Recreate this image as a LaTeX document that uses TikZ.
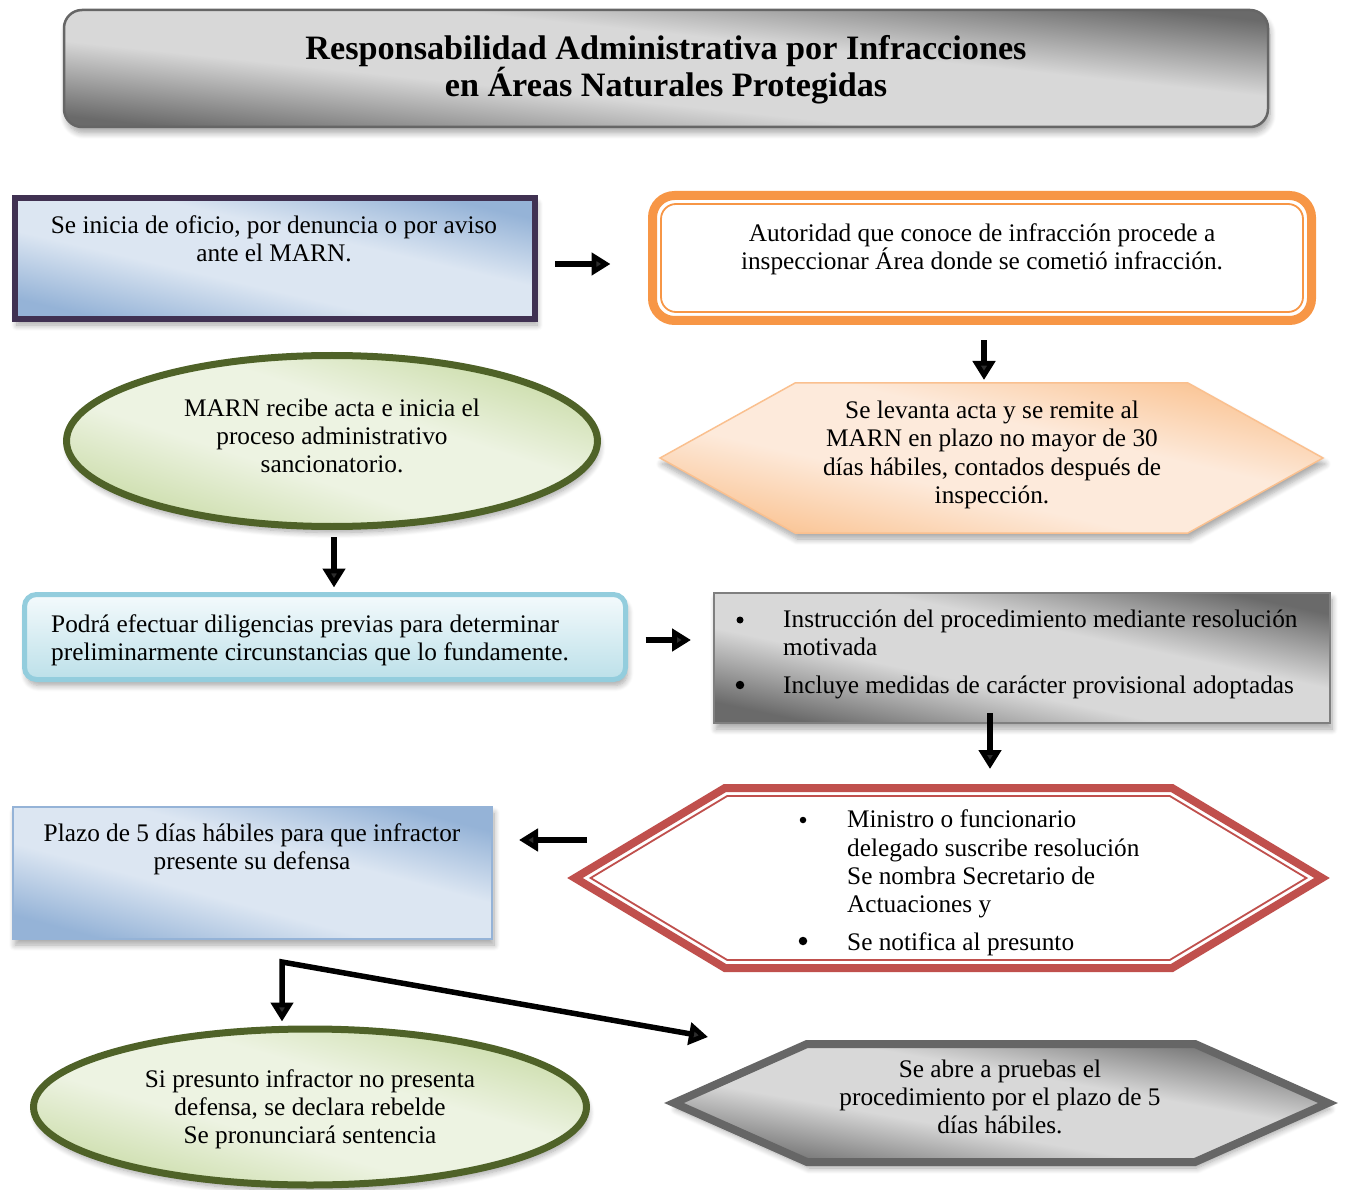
\documentclass[tikz,border=0pt]{standalone}
\usepackage{fontspec}
\setmainfont{Liberation Serif}
\usetikzlibrary{arrows.meta,shapes.geometric,calc,shadows.blur}

\definecolor{purpleb}{HTML}{403152}
\definecolor{bluedark}{HTML}{95B3D7}
\definecolor{bluelight}{HTML}{DCE6F2}
\definecolor{orangeb}{HTML}{F79646}
\definecolor{peachb}{HTML}{FAC08F}
\definecolor{peachdark}{HTML}{FAC494}
\definecolor{peachlight}{HTML}{FDEADB}
\definecolor{greenb}{HTML}{4F6228}
\definecolor{greendark}{HTML}{CADCA8}
\definecolor{greenlight}{HTML}{EDF3E2}
\definecolor{cyanb}{HTML}{93CDDD}
\definecolor{cyantop}{HTML}{F4FAFC}
\definecolor{cyanbot}{HTML}{BCE0E9}
\definecolor{grayb}{HTML}{7F7F7F}
\definecolor{graydark}{HTML}{6A6A6A}
\definecolor{graylight}{HTML}{D8D8D8}
\definecolor{redb}{HTML}{C0504D}
\definecolor{hexgray}{HTML}{666666}

% two-tone bands: dark at the far corners, light across the middle
\pgfdeclareverticalshading{grayband}{100bp}{color(0bp)=(graydark); color(25bp)=(graydark);
  color(42bp)=(graylight); color(58bp)=(graylight); color(75bp)=(graydark); color(100bp)=(graydark)}
\pgfdeclareverticalshading{blueband}{100bp}{color(0bp)=(bluedark); color(25bp)=(bluedark);
  color(42bp)=(bluelight); color(58bp)=(bluelight); color(75bp)=(bluedark); color(100bp)=(bluedark)}
\pgfdeclareverticalshading{greenband}{100bp}{color(0bp)=(greendark); color(25bp)=(greendark);
  color(42bp)=(greenlight); color(58bp)=(greenlight); color(75bp)=(greendark); color(100bp)=(greendark)}
\pgfdeclareverticalshading{peachband}{100bp}{color(0bp)=(peachdark); color(25bp)=(peachdark);
  color(42bp)=(peachlight); color(58bp)=(peachlight); color(75bp)=(peachdark); color(100bp)=(peachdark)}

\tikzset{
  body/.style={font=\fontsize{25.3}{28.2}\selectfont, align=center, inner sep=0pt},
  dot/.style={circle, fill=black, inner sep=0pt, minimum size=#1},
  band/.style 2 args={shading=#1, shading angle=#2},
  shadowed/.style={blur shadow={shadow xshift=2pt, shadow yshift=-6pt,
      shadow blur radius=6pt, shadow blur steps=8, shadow opacity=35}},
  flowarrow/.style={line width=5.5pt, -{Triangle[length=19pt,width=22pt]}},
  frame/.style={inner sep=0pt, outer sep=0pt},
}

\begin{document}
\begin{tikzpicture}[x=1pt,y=-1pt]
\useasboundingbox (0,0) rectangle (1345,1190);

% ---- title banner
\node[frame, rectangle, rounded corners=18pt, draw=hexgray, line width=2.5pt,
      minimum width=1204pt, minimum height=117pt, shadowed,
      band={grayband}{-6}] (banner) at (666,68.5) {};
\node[font=\bfseries\fontsize{34.2}{37}\selectfont, align=center, inner sep=0pt]
  (ttl) at (666,69.5) {Responsabilidad Administrativa por Infracciones\\en Áreas Naturales Protegidas};

% ---- row 1
\node[frame, rectangle, draw=purpleb, line width=6pt, minimum width=520pt,
      minimum height=121pt, shadowed, band={blueband}{-13}] (b1) at (275,258.5) {};
\node[body] (t1) at (274,239) {Se inicia de oficio, por denuncia o por aviso\\ante el MARN.};

\node[frame, rectangle, rounded corners=22pt, draw=orangeb, line width=9pt, fill=white,
      minimum width=659pt, minimum height=125pt] (b2) at (982,258) {};
\node[frame, rectangle, rounded corners=15pt, draw=orangeb, line width=1.8pt,
      minimum width=642pt, minimum height=108pt] (b2in) at (982,258) {};
\node[body] (t2) at (982,249) {Autoridad que conoce de infracción procede a\\inspeccionar Área donde se cometió infracción.};

% ---- row 2
\node[frame, minimum width=663pt, minimum height=150pt] (hp) at (991.5,458) {};
\path[draw=peachb, line width=1.5pt, band={peachband}{-13}, shadowed]
  (hp.west) -- ([xshift=135pt]hp.north west) -- ([xshift=-135pt]hp.north east)
  -- (hp.east) -- ([xshift=-135pt]hp.south east) -- ([xshift=135pt]hp.south west) -- cycle;
\node[body] (t3) at (992,455) {Se levanta acta y se remite al\\MARN en plazo no mayor de 30\\días hábiles, contados después de\\inspección.};

\node[ellipse, draw=greenb, line width=7pt, minimum width=531pt, minimum height=171pt,
      shadowed, band={greenband}{-18}] (e1) at (332,441) {};
\node[body] (t4) at (332,436) {MARN recibe acta e inicia el\\proceso administrativo\\sancionatorio.};

% ---- row 3
\node[frame, rectangle, rounded corners=12pt, draw=cyanb, line width=5pt,
      minimum width=601pt, minimum height=85pt, shadowed,
      top color=cyantop, bottom color=cyanbot] (lb) at (325,637) {};
\node[body, align=left, anchor=west] (t5) at (51,640)
  {Podrá efectuar diligencias previas para determinar\\preliminarmente circunstancias que lo fundamente.};

\node[frame, rectangle, draw=grayb, line width=2pt, minimum width=616pt,
      minimum height=130pt, shadowed, band={grayband}{-12}] (gb) at (1022,658) {};
\node[dot=7pt] (gb1) at (740,620) {};
\node[body, align=left, anchor=west] (t6) at (783,633)
  {Instrucción del procedimiento mediante resolución\\motivada};
\node[dot=8.5pt] (gb2) at (740,685) {};
\node[body, align=left, anchor=west] (t7) at (783,687)
  {Incluye medidas de carácter provisional adoptadas};

% ---- row 4
\node[frame, minimum width=747pt, minimum height=180pt] (rh) at (948.5,878) {};
\path[draw=redb, line width=8pt, fill=white]
  (rh.west) -- ([xshift=150pt]rh.north west) -- ([xshift=-150pt]rh.north east)
  -- (rh.east) -- ([xshift=-150pt]rh.south east) -- ([xshift=150pt]rh.south west) -- cycle;
\path[draw=redb, line width=1.8pt]
  ([xshift=15.6pt]rh.west) -- ([xshift=152.2pt,yshift=-8pt]rh.north west)
  -- ([xshift=-152.2pt,yshift=-8pt]rh.north east) -- ([xshift=-15.6pt]rh.east)
  -- ([xshift=-152.2pt,yshift=8pt]rh.south east) -- ([xshift=152.2pt,yshift=8pt]rh.south west) -- cycle;
\node[dot=6.5pt] (rb1) at (803,820) {};
\node[body, align=left, anchor=west] (t8) at (847,864)
  {Ministro o funcionario\\delegado suscribe resolución\\Se nombra Secretario de\\Actuaciones y};
\node[dot=8.5pt] (rb2) at (803,941) {};
\node[body, align=left, anchor=west] (t9) at (847,944) {Se notifica al presunto};

\node[frame, rectangle, draw=bluedark, line width=2pt, minimum width=479pt,
      minimum height=132pt, shadowed, band={blueband}{-15}] (pz) at (252.5,873) {};
\node[body] (t10) at (252,849) {Plazo de 5 días hábiles para que infractor\\presente su defensa};

% ---- row 5
\node[ellipse, draw=greenb, line width=7pt, minimum width=553pt, minimum height=156pt,
      shadowed, band={greenband}{-16}] (e2) at (310,1107) {};
\node[body] (t11) at (310,1109) {Si presunto infractor no presenta\\defensa, se declara rebelde\\Se pronunciará sentencia};

\node[frame, minimum width=654pt, minimum height=118pt] (gh) at (1001,1103) {};
\path[draw=hexgray, line width=8pt, band={grayband}{-10}, shadowed]
  (gh.west) -- ([xshift=133pt]gh.north west) -- ([xshift=-133pt]gh.north east)
  -- (gh.east) -- ([xshift=-133pt]gh.south east) -- ([xshift=133pt]gh.south west) -- cycle;
\node[body] (t12) at (1000,1097) {Se abre a pruebas el\\procedimiento por el plazo de 5\\días hábiles.};

% ---- connectors
\draw[flowarrow] ($(b1.east)+(20,5.5)$) -- ($(b2.west)+(-42,6)$);
\draw[flowarrow] ($(b2.south)+(2,20)$) -- ($(hp.north)+(-7.5,-3)$);
\draw[flowarrow] ($(e1.south)+(2,7)$) -- ($(lb.north)+(9,-7)$);
\draw[flowarrow] ($(lb.east)+(20,3)$) -- ($(gb.west)+(-23,-18)$);
\draw[flowarrow] ($(gb.south)+(-32,-10)$) -- ($(rh.north)+(41.5,-19)$);
\draw[flowarrow] ($(rh.west)+(12,-38)$) -- ($(pz.east)+(27,-33)$);

\coordinate (fork) at ($(pz.south)+(29.5,23)$);
\coordinate (ptip) at ($(gh.north west)+(34,-7)$);
\coordinate (etip) at ($(e2.north)+(-28,-4)$);
\draw[line width=5.5pt, {Triangle[length=19pt,width=22pt]}-{Triangle[length=19pt,width=22pt]}]
  (etip) -- (fork) -- (ptip);
\end{tikzpicture}
\end{document}
